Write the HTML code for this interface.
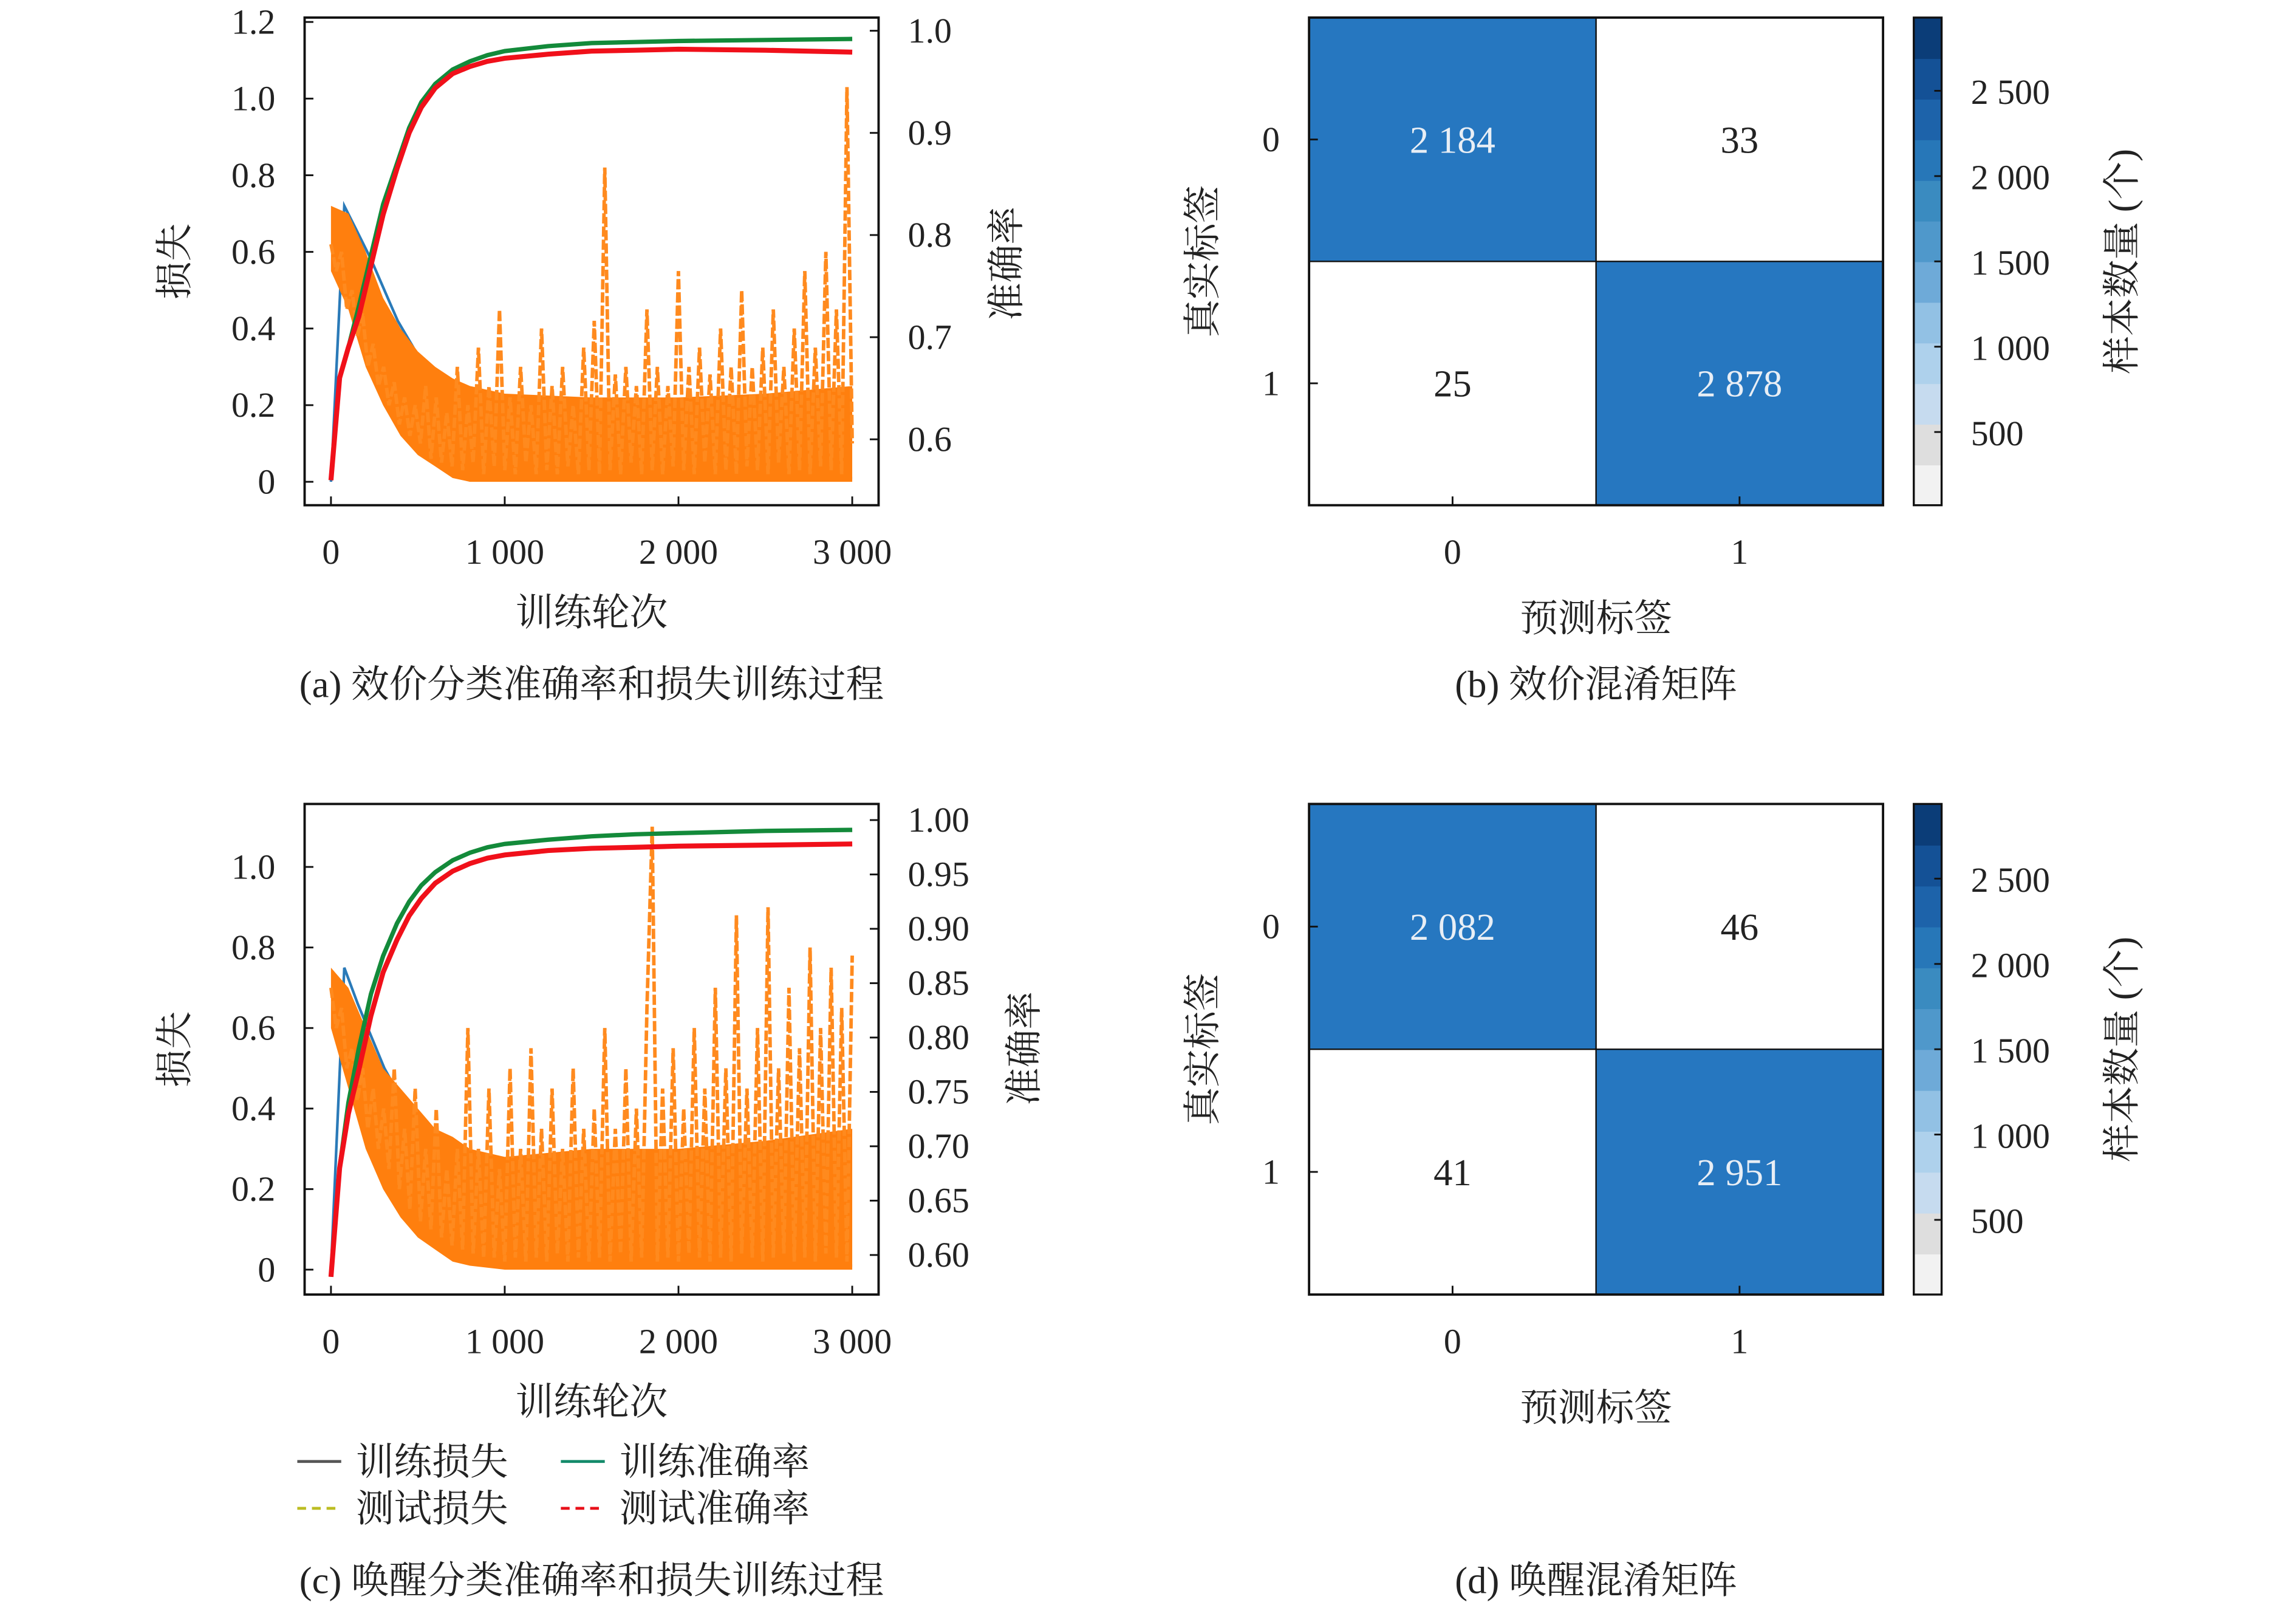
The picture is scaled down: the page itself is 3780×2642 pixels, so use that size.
<!DOCTYPE html>
<html><head><meta charset="utf-8"><style>
html,body{margin:0;padding:0;background:#fff;}
svg{display:block;}
text{font-family:"Liberation Serif","Noto Serif CJK SC",serif;fill:#222;}
</style></head><body>
<svg id="fig" width="3780" height="2642" viewBox="0 0 1568 1096" xmlns="http://www.w3.org/2000/svg"></svg>
<script>
// ---------- data ----------
const epochsMax = 3000;
const lossTicks = [0,0.2,0.4,0.6,0.8,1.0,1.2];
const lossTickLabels = ["0","0.2","0.4","0.6","0.8","1.0","1.2"];
const xTicks = [0,1000,2000,3000];
const xTickLabels = ["0","1 000","2 000","3 000"];
const accTicksA = [0.6,0.7,0.8,0.9,1.0];
const accTickLabelsA = ["0.6","0.7","0.8","0.9","1.0"];
const accTicksC = [0.60,0.65,0.70,0.75,0.80,0.85,0.90,0.95,1.00];
const accTickLabelsC = ["0.60","0.65","0.70","0.75","0.80","0.85","0.90","0.95","1.00"];

const envEpochs = [0,100,200,300,400,500,600,700,800,1000,1500,2000,2500,3000];
const testLossLowerA = [0.55,0.45,0.3,0.2,0.12,0.07,0.04,0.01,0.0,0.0,0.0,0.0,0.0,0.0];
const testLossUpperA = [0.72,0.7,0.6,0.48,0.4,0.34,0.3,0.27,0.25,0.23,0.22,0.22,0.23,0.25];
const testLossLowerC = [0.6,0.45,0.3,0.2,0.13,0.08,0.05,0.02,0.01,0.0,0.0,0.0,0.0,0.0];
const testLossUpperC = [0.75,0.7,0.6,0.5,0.45,0.4,0.35,0.33,0.3,0.28,0.3,0.3,0.32,0.35];

const trainLossA = [0.0,0.72,0.65,0.58,0.5,0.42,0.36,0.3,0.25,0.2,0.16,0.12,0.09,0.07,0.05,0.04,0.03,0.02,0.02,0.015,0.01,0.01,0.01,0.01,0.01,0.01,0.01,0.01,0.01,0.01,0.01,0.01,0.01,0.01,0.01,0.01,0.01,0.01,0.01,0.01];
const testLossA = [0.62,0.55,0.6,0.45,0.5,0.38,0.44,0.3,0.36,0.25,0.3,0.2,0.26,0.15,0.22,0.12,0.2,0.1,0.25,0.06,0.22,0.05,0.18,0.04,0.3,0.03,0.2,0.05,0.35,0.02,0.25,0.04,0.45,0.03,0.22,0.02,0.3,0.05,0.2,0.02,0.4,0.03,0.25,0.02,0.3,0.04,0.2,0.02,0.35,0.03,0.42,0.02,0.82,0.03,0.28,0.02,0.3,0.05,0.25,0.02,0.45,0.03,0.3,0.02,0.25,0.04,0.55,0.03,0.3,0.02,0.35,0.05,0.28,0.02,0.4,0.03,0.3,0.02,0.5,0.04,0.3,0.03,0.35,0.02,0.45,0.05,0.3,0.02,0.4,0.03,0.55,0.02,0.35,0.04,0.6,0.03,0.45,0.02,1.03,0.1];
const accEpochs = [0,50,100,160,230,300,380,450,520,600,700,800,900,1000,1250,1500,1750,2000,2500,3000];
const trainAccA = [0.56,0.66,0.69,0.73,0.78,0.83,0.87,0.905,0.93,0.948,0.962,0.97,0.976,0.98,0.985,0.988,0.989,0.99,0.991,0.992];
const testAccA  = [0.56,0.66,0.69,0.72,0.77,0.82,0.865,0.9,0.925,0.944,0.958,0.965,0.97,0.973,0.977,0.98,0.981,0.982,0.981,0.979];

const trainLossC = [0.0,0.75,0.66,0.58,0.5,0.44,0.37,0.31,0.26,0.21,0.17,0.13,0.1,0.08,0.06,0.05,0.04,0.03,0.02,0.02,0.015,0.01,0.01,0.01,0.01,0.01,0.01,0.01,0.01,0.01,0.01,0.01,0.01,0.01,0.01,0.01,0.01,0.01,0.01,0.01];
const testLossC = [0.7,0.6,0.65,0.5,0.55,0.42,0.5,0.35,0.45,0.3,0.4,0.25,0.5,0.2,0.35,0.15,0.45,0.12,0.3,0.1,0.4,0.08,0.25,0.06,0.3,0.05,0.6,0.04,0.3,0.03,0.45,0.03,0.25,0.02,0.5,0.03,0.3,0.02,0.55,0.03,0.35,0.02,0.45,0.04,0.3,0.02,0.5,0.03,0.35,0.02,0.4,0.03,0.6,0.02,0.35,0.04,0.5,0.02,0.4,0.03,0.65,1.1,0.02,0.45,0.03,0.55,0.02,0.4,0.04,0.6,0.03,0.45,0.02,0.7,0.03,0.5,0.02,0.88,0.04,0.45,0.03,0.6,0.02,0.9,0.03,0.5,0.04,0.7,0.02,0.55,0.03,0.8,0.02,0.6,0.04,0.75,0.03,0.65,0.02,0.78];
const trainAccC = [0.58,0.68,0.74,0.79,0.84,0.875,0.905,0.925,0.94,0.952,0.963,0.97,0.975,0.978,0.982,0.985,0.987,0.988,0.99,0.991];
const testAccC  = [0.58,0.68,0.73,0.77,0.82,0.86,0.89,0.912,0.928,0.942,0.953,0.96,0.965,0.968,0.972,0.974,0.975,0.976,0.977,0.978];

const cmB = [[2184,33],[25,2878]];
const cmBLabels = [["2 184","33"],["25","2 878"]];
const cmD = [[2082,46],[41,2951]];
const cmDLabels = [["2 082","46"],["41","2 951"]];
const cbTicks = [500,1000,1500,2000,2500];
const cbTickLabels = ["500","1 000","1 500","2 000","2 500"];

// ---------- helpers ----------
const NS = "http://www.w3.org/2000/svg";
const svg = document.getElementById('fig');
function mk(tag, attrs, parent, text){
  const e = document.createElementNS(NS, tag);
  for (const k in attrs) e.setAttribute(k, attrs[k]);
  if (text !== undefined) e.textContent = text;
  (parent || svg).appendChild(e);
  return e;
}
function lin(d0,d1,r0,r1){ return v => r0 + (v-d0)/(d1-d0)*(r1-r0); }

function linePlot(cfg){
  const g = mk('g', {});
  
  
  const {L,R,T,B} = cfg;
  const x = lin(0, epochsMax, 226, 582);
  const yL = lin(0, cfg.lossMax, cfg.loss0, cfg.lossTop);
  const yR = lin(cfg.accLo, cfg.accHi, cfg.accLoY, cfg.accHiY);
  const clip = 'clip-' + cfg.name;
  const cp = mk('clipPath', {id: clip}, g);
  mk('rect', {x:L, y:T, width:R-L, height:B-T}, cp);
  const plot = mk('g', {'clip-path':'url(#'+clip+')'}, g);
  function pts(arr, ys, xs){
    return arr.map((v,i)=> x(xs ? xs[i] : i*epochsMax/(arr.length-1)).toFixed(1)+','+ys(v).toFixed(1)).join(' ');
  }
  let p;
  p = mk('polyline', {points: pts(cfg.trainLoss, yL), fill:'none', stroke:'#2a7ab8', 'stroke-width':1.8}, plot);
   
  const up = cfg.upper.map((v,i)=> x(envEpochs[i]).toFixed(1)+','+yL(v).toFixed(1));
  const lo = cfg.lower.map((v,i)=> x(envEpochs[i]).toFixed(1)+','+yL(v).toFixed(1)).reverse();
  p = mk('polygon', {points: up.concat(lo).join(' '), fill:'#ff7f0e'}, plot);
   
  p = mk('polyline', {points: pts(cfg.testLoss, yL), fill:'none', stroke:'#ff8a1e', 'stroke-width':2.4, 'stroke-dasharray':'7,2'}, plot);
   
  p = mk('polyline', {points: pts(cfg.trainAcc, yR, accEpochs), fill:'none', stroke:'#138a3a', 'stroke-width':3}, plot);
   
  p = mk('polyline', {points: pts(cfg.testAcc, yR, accEpochs), fill:'none', stroke:'#f0101a', 'stroke-width':3.4}, plot);
   
  mk('rect', {x:L, y:T, width:R-L, height:B-T, fill:'none', stroke:'#111', 'stroke-width':1.6}, g);
  xTicks.forEach((t,i)=>{
    const xx = x(t);
    mk('line', {x1:xx, x2:xx, y1:B, y2:B-6, stroke:'#111','stroke-width':1.2}, g);
    const tx = mk('text', {x:xx, y:B+40, 'font-size':24, 'text-anchor':'middle'}, g, xTickLabels[i]);
     
  });
  lossTicks.forEach((t,i)=>{
    if (t > cfg.lossMaxTick) return;
    const yy = yL(t);
    mk('line', {x1:L, x2:L+6, y1:yy, y2:yy, stroke:'#111','stroke-width':1.2}, g);
    const tx = mk('text', {x:L-20, y:yy+8, 'font-size':24, 'text-anchor':'end'}, g, lossTickLabels[i]);
     
  });
  cfg.accTicks.forEach((t,i)=>{
    const yy = yR(t);
    mk('line', {x1:R, x2:R-6, y1:yy, y2:yy, stroke:'#111','stroke-width':1.2}, g);
    const tx = mk('text', {x:R+20, y:yy+8, 'font-size':24}, g, cfg.accTickLabels[i]);
     
  });
  let t;
  t = mk('text', {x:404, y:B+82, 'font-size':26, 'text-anchor':'middle'}, g, '训练轮次');
   
  const my = (T+B)/2;
  t = mk('text', {x:0, y:0, 'font-size':26, 'text-anchor':'middle', transform:`translate(128,${my}) rotate(-90)`}, g, '损失');
   
  t = mk('text', {x:0, y:0, 'font-size':26, 'text-anchor':'middle', transform:`translate(${cfg.accTitleX},${cfg.accTitleY}) rotate(-90)`}, g, '准确率');
   
  t = mk('text', {x:404, y:cfg.capY, 'font-size':26, 'text-anchor':'middle'}, g, cfg.caption);
   
}

const cbColors = ['#f2f2f2','#dedede','#c6dbef','#aed1ec','#92c1e4','#6eaad8','#4f98cb','#3a8bc0','#2777b8','#1d63aa','#145196','#0b3d78'];
function blueOf(v){ return v < 200 ? '#ffffff' : '#2677c0'; }

function confMatrix(cfg){
  const g = mk('g', {});
  
  
  const L=894, R=1286, T=cfg.T, B=cfg.B;
  const cw=(R-L)/2, ch=(B-T)/2;
  for (let r=0;r<2;r++) for (let c=0;c<2;c++){
    const v = cfg.data[r][c];
    const rc = mk('rect', {x:L+c*cw, y:T+r*ch, width:cw, height:ch, fill:blueOf(v)}, g);
     
    const tx = mk('text', {x:L+c*cw+cw/2, y:T+r*ch+ch/2+9, 'font-size':26, 'text-anchor':'middle', style:'fill:'+(v>1000?'#e8eef5':'#222')}, g, cfg.labels[r][c]);
     
  }
  mk('rect', {x:L,y:T,width:R-L,height:B-T,fill:'none',stroke:'#111','stroke-width':1.6}, g);
  mk('line', {x1:L+cw,x2:L+cw,y1:T,y2:B,stroke:'#111','stroke-width':1}, g);
  mk('line', {x1:L,x2:R,y1:T+ch,y2:T+ch,stroke:'#111','stroke-width':1}, g);
  [0,1].forEach(i=>{
    const xx = L+cw*i+cw/2;
    mk('line',{x1:xx,x2:xx,y1:B,y2:B-6,stroke:'#111','stroke-width':1.2},g);
    let t = mk('text',{x:xx,y:B+40,'font-size':24,'text-anchor':'middle'},g,String(i));
     
    const yy = T+ch*i+ch/2;
    mk('line',{x1:L,x2:L+6,y1:yy,y2:yy,stroke:'#111','stroke-width':1.2},g);
    t = mk('text',{x:868,y:yy+8,'font-size':24,'text-anchor':'middle'},g,String(i));
     
  });
  let t = mk('text',{x:1090,y:B+86,'font-size':26,'text-anchor':'middle'},g,'预测标签');
   
  t = mk('text',{x:0,y:0,'font-size':26,'text-anchor':'middle',transform:`translate(830,${(T+B)/2}) rotate(-90)`},g,'真实标签');
   
  const cb = mk('g',{},g);
   
  const cL=1307, cR=1326;
  const cy = lin(500, 2500, cfg.cb500, cfg.cb2500);
  const n = cbColors.length;
  for (let i=0;i<n;i++){
    const y0 = B - (B-T)*i/n, y1 = B - (B-T)*(i+1)/n;
    mk('rect',{x:cL,y:y1,width:cR-cL,height:y0-y1+0.5,fill:cbColors[i]},cb);
  }
  mk('rect',{x:cL,y:T,width:cR-cL,height:B-T,fill:'none',stroke:'#111','stroke-width':1.4},cb);
  cbTicks.forEach((v,i)=>{
    const yy = cy(v);
    mk('line',{x1:cR,x2:cR-5,y1:yy,y2:yy,stroke:'#111','stroke-width':1.2},cb);
    const tt = mk('text',{x:1346,y:yy+9,'font-size':24},cb,cbTickLabels[i]);
     
  });
  t = mk('text',{x:0,y:0,'font-size':26,'text-anchor':'middle',transform:`translate(1458,${(T+B)/2}) rotate(-90)`},cb,'样本数量 (个)');
   
  t = mk('text',{x:1090,y:cfg.capY,'font-size':26,'text-anchor':'middle'},g,cfg.caption);
   
}

linePlot({name:'valence-training-plot', L:208,R:600,T:12,B:345, lossMax:1.2, lossMaxTick:1.2, loss0:329, lossTop:15,
  accLo:0.6, accHi:1.0, accLoY:300, accHiY:21, accTicks:accTicksA, accTickLabels:accTickLabelsA,
  trainLoss:trainLossA, testLoss:testLossA, trainAcc:trainAccA, testAcc:testAccA, upper:testLossUpperA, lower:testLossLowerA,
  accTitleX:696, accTitleY:180, caption:'(a) 效价分类准确率和损失训练过程', capY:476});
linePlot({name:'arousal-training-plot', L:208,R:600,T:549,B:884, lossMax:1.0, lossMaxTick:1.0, loss0:867, lossTop:592,
  accLo:0.6, accHi:1.0, accLoY:857, accHiY:560, accTicks:accTicksC, accTickLabels:accTickLabelsC,
  trainLoss:trainLossC, testLoss:testLossC, trainAcc:trainAccC, testAcc:testAccC, upper:testLossUpperC, lower:testLossLowerC,
  accTitleX:708, accTitleY:716, caption:'(c) 唤醒分类准确率和损失训练过程', capY:1088});
confMatrix({name:'valence-confusion-matrix', T:12, B:345, data:cmB, labels:cmBLabels, cb500:295, cb2500:62, caption:'(b) 效价混淆矩阵', capY:476});
confMatrix({name:'arousal-confusion-matrix', T:549, B:884, data:cmD, labels:cmDLabels, cb500:833, cb2500:600, caption:'(d) 唤醒混淆矩阵', capY:1088});

const lg = mk('g',{});
 
const legendItems = [
  {x:203,y:998,c:'#555',d:'',t:'训练损失'},
  {x:383,y:998,c:'#138a6a',d:'',t:'训练准确率'},
  {x:203,y:1030,c:'#bcbd22',d:'6,4',t:'测试损失'},
  {x:383,y:1030,c:'#e8101a',d:'6,4',t:'测试准确率'}];
legendItems.forEach(it=>{
  const e = mk('g',{},lg);
   
  mk('line',{x1:it.x,x2:it.x+30,y1:it.y,y2:it.y,stroke:it.c,'stroke-width':2,'stroke-dasharray':it.d||'none'},e);
  mk('text',{x:it.x+40,y:it.y+9,'font-size':26},e,it.t);
});
</script>
</body></html>
